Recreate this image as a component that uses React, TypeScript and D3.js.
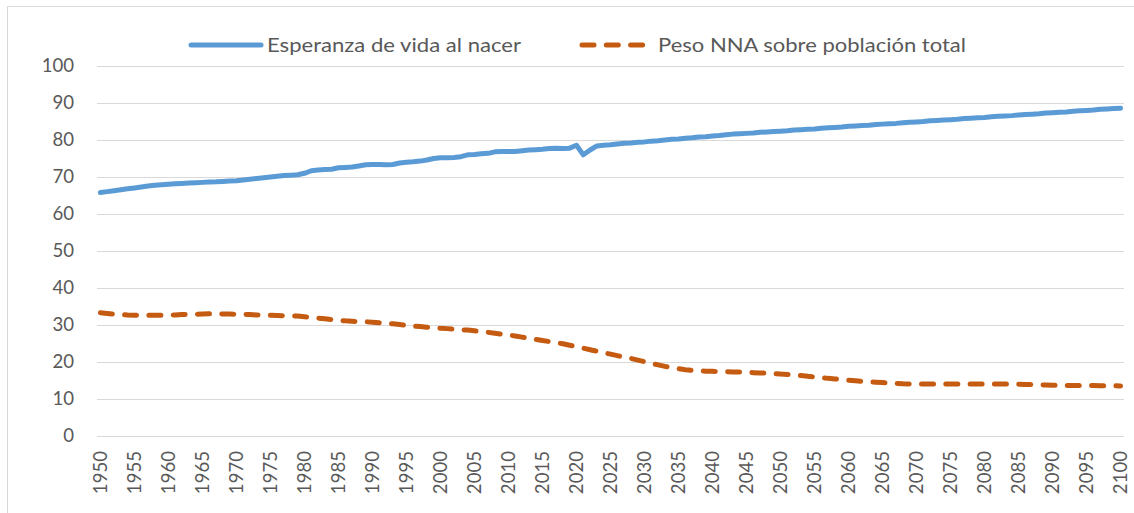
import React from "react";
import * as d3 from "d3";

const years: number[] = d3.range(1950, 2101);
const xLabels: number[] = d3.range(1950, 2101, 5);
const yTicks: number[] = [0, 10, 20, 30, 40, 50, 60, 70, 80, 90, 100];

const seriesNames = ["Esperanza de vida al nacer", "Peso NNA sobre población total"];

// Esperanza de vida al nacer (1950..2100)
const lifeExpectancy: number[] = [
  65.7, 65.95, 66.2, 66.45, 66.7, 66.95, 67.2, 67.45, 67.65, 67.8,
  67.95, 68.05, 68.15, 68.25, 68.35, 68.45, 68.55, 68.6, 68.7, 68.8,
  68.9, 69.1, 69.3, 69.5, 69.7, 69.9, 70.1, 70.3, 70.4, 70.5,
  70.9, 71.6, 71.8, 71.9, 72.0, 72.4, 72.5, 72.6, 72.9, 73.2,
  73.3, 73.3, 73.2, 73.3, 73.7, 73.9, 74.0, 74.2, 74.5, 74.9,
  75.1, 75.1, 75.2, 75.4, 75.9, 76.0, 76.2, 76.3, 76.7, 76.8,
  76.8, 76.8, 77.0, 77.2, 77.3, 77.4, 77.6, 77.7, 77.6, 77.7,
  78.5, 75.9, 77.2, 78.3, 78.5, 78.6, 78.8, 79.0, 79.1, 79.3,
  79.4, 79.6, 79.7, 79.9, 80.1, 80.2, 80.4, 80.5, 80.7, 80.8,
  81.0, 81.1, 81.3, 81.5, 81.6, 81.7, 81.8, 82.0, 82.1, 82.2,
  82.3, 82.4, 82.6, 82.7, 82.8, 82.9, 83.1, 83.2, 83.3, 83.4,
  83.6, 83.7, 83.8, 83.9, 84.1, 84.2, 84.3, 84.4, 84.6, 84.7,
  84.8, 84.9, 85.1, 85.2, 85.3, 85.4, 85.5, 85.7, 85.8, 85.9,
  86.0, 86.2, 86.3, 86.4, 86.5, 86.7, 86.8, 86.9, 87.0, 87.2,
  87.3, 87.4, 87.5, 87.7, 87.8, 87.9, 88.0, 88.2, 88.3, 88.4,
  88.5,
];

// Peso NNA sobre población total (1950..2100)
const nnaShare: number[] = [
  33.2, 33.0, 32.8, 32.7, 32.6, 32.55, 32.5, 32.5, 32.5, 32.5,
  32.55, 32.6, 32.7, 32.75, 32.8, 32.85, 32.9, 32.9, 32.85, 32.85,
  32.8, 32.75, 32.7, 32.6, 32.55, 32.5, 32.45, 32.4, 32.35, 32.3,
  32.1, 31.9, 31.75, 31.55, 31.35, 31.15, 31.0, 30.9, 30.8, 30.75,
  30.65, 30.5, 30.35, 30.2, 30.0, 29.8, 29.6, 29.45, 29.3, 29.15,
  29.0, 28.9, 28.75, 28.6, 28.5, 28.3, 28.1, 27.9, 27.65, 27.4,
  27.15, 26.9, 26.6, 26.3, 26.0, 25.7, 25.4, 25.1, 24.8, 24.4,
  24.0, 23.6, 23.2, 22.8, 22.4, 22.0, 21.6, 21.2, 20.85, 20.4,
  19.95, 19.5, 19.1, 18.7, 18.35, 18.05, 17.8, 17.6, 17.5, 17.4,
  17.35, 17.3, 17.25, 17.2, 17.15, 17.1, 17.0, 16.9, 16.85, 16.75,
  16.6, 16.5, 16.35, 16.2, 16.0, 15.85, 15.65, 15.45, 15.3, 15.1,
  14.95, 14.8, 14.6, 14.5, 14.4, 14.3, 14.2, 14.1, 14.0, 13.95,
  13.9, 13.9, 13.9, 13.9, 13.9, 13.9, 13.9, 13.9, 13.9, 13.9,
  13.9, 13.9, 13.9, 13.9, 13.9, 13.85, 13.8, 13.75, 13.7, 13.65,
  13.6, 13.6, 13.55, 13.55, 13.5, 13.5, 13.5, 13.45, 13.45, 13.45,
  13.4,
];

const W = 1134;
const H = 513;
const plot = { left: 97, right: 1124, top: 65.7, bottom: 435.5 };
const FONT = "Lato, 'Open Sans', sans-serif";
const TEXT = "#595959";
const GRID = "#d9d9d9";
const BLUE = "#5b9bd5";
const ORANGE = "#c55a11";

export default function App() {
  const x = d3
    .scaleBand<number>()
    .domain(years)
    .range([plot.left, plot.right])
    .padding(0);
  const cx = (yr: number) => (x(yr) as number) + x.bandwidth() / 2;
  const y = d3.scaleLinear().domain([0, 100]).range([plot.bottom, plot.top]);

  const line = d3
    .line<number>()
    .x((_, i) => cx(years[i]))
    .y((d) => y(d));

  return (
    <svg
      width={W}
      height={H}
      style={{ position: "absolute", left: 0, top: 0, background: "#fff" }}
      fontFamily={FONT}
    >
      <rect x={7.5} y={6.5} width={W + 10} height={H + 10} fill="#fff" stroke={GRID} strokeWidth={1} />

      {yTicks.map((t) => (
        <g key={t}>
          <line x1={plot.left} x2={plot.right} y1={Math.round(y(t)) + 0.5} y2={Math.round(y(t)) + 0.5} stroke={GRID} strokeWidth={1} />
          <text x={74} y={y(t)} dy="0.36em" textAnchor="end" fontSize={18.6} fill={TEXT}>
            {t}
          </text>
        </g>
      ))}

      {xLabels.map((yr) => (
        <text
          key={yr}
          transform={`translate(${cx(yr)},${451}) rotate(-90)`}
          dy="0.36em"
          textAnchor="end"
          fontSize={18.6}
          fill={TEXT}
        >
          {yr}
        </text>
      ))}

      <path d={line(nnaShare) || ""} fill="none" stroke={ORANGE} strokeWidth={5} strokeLinecap="round" strokeLinejoin="round" strokeDasharray="12 12.3" />
      <path d={line(lifeExpectancy) || ""} fill="none" stroke={BLUE} strokeWidth={5} strokeLinecap="round" strokeLinejoin="round" />

      {/* legend */}
      <line x1={191} x2={261} y1={45} y2={45} stroke={BLUE} strokeWidth={5} strokeLinecap="round" />
      <text x={267} y={45} dy="0.36em" fontSize={18.6} fill={TEXT} textLength={254} lengthAdjust="spacingAndGlyphs">
        {seriesNames[0]}
      </text>
      <line x1={582} x2={644} y1={45} y2={45} stroke={ORANGE} strokeWidth={5} strokeLinecap="round" strokeDasharray="12 12.3" />
      <text x={658} y={45} dy="0.36em" fontSize={18.6} fill={TEXT} textLength={308} lengthAdjust="spacingAndGlyphs">
        {seriesNames[1]}
      </text>
    </svg>
  );
}
